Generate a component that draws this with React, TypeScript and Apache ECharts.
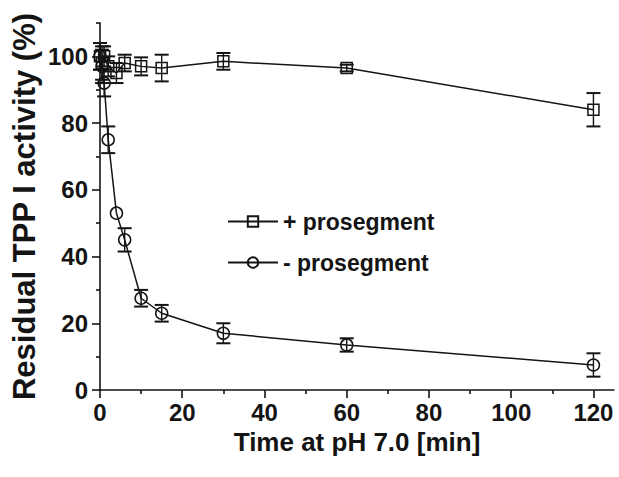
import React, { useEffect, useRef } from "react";
import * as echarts from "echarts";

// Time after shift to pH 7.0 (min)
const timesMin = [0, 0.5, 1, 2, 4, 6, 10, 15, 30, 60, 120];
// Residual activity (%) with prosegment
const withProsegment = [100, 98, 100, 97, 95, 98, 97, 96.5, 98.5, 96.5, 84];
const withProsegmentErr = [4, 5, 3, 3, 3, 2.5, 2.7, 4, 2.5, 1, 5];
// Residual activity (%) without prosegment
const withoutProsegment = [100, 97, 92, 75, 53, 45, 27.5, 23, 17, 13.5, 7.5];
const withoutProsegmentErr = [4, 5, 4, 4, 0, 3.5, 2.5, 2.5, 3, 2, 3.5];

const seriesNames = ["+ prosegment", "- prosegment"];
const xMajorTicks = [0, 20, 40, 60, 80, 100, 120];
const xMinorTicks = [10, 30, 50, 70, 90, 110];
const yMajorTicks = [0, 20, 40, 60, 80, 100];
const yMinorTicks = [10, 30, 50, 70, 90, 110];

const INK = "#141414";
const SANS = "'Liberation Sans', Arial, Helvetica, sans-serif";

function errorData(vals: number[], errs: number[]) {
  return timesMin.map((t, i) => [t, vals[i] - errs[i], vals[i] + errs[i]]);
}

function errorSeries(name: string, vals: number[], errs: number[]) {
  return {
    type: "custom",
    name: name + " err",
    clip: false,
    silent: true,
    z: 3,
    encode: { x: 0, y: [1, 2] },
    data: errorData(vals, errs),
    renderItem: (params: any, api: any) => {
      const x = api.value(0);
      if (api.value(2) - api.value(1) <= 0) return { type: "group", children: [] };
      const top = api.coord([x, api.value(2)]);
      const bot = api.coord([x, api.value(1)]);
      const hw = 7;
      const s = { stroke: INK, lineWidth: 2 };
      return {
        type: "group",
        children: [
          { type: "line", shape: { x1: top[0], y1: top[1], x2: bot[0], y2: bot[1] }, style: { stroke: INK, lineWidth: 1.4 } },
          { type: "line", shape: { x1: top[0] - hw, y1: top[1], x2: top[0] + hw, y2: top[1] }, style: s },
          { type: "line", shape: { x1: bot[0] - hw, y1: bot[1], x2: bot[0] + hw, y2: bot[1] }, style: s },
        ],
      };
    },
  };
}

function lineSeries(name: string, vals: number[], symbol: string, size: number) {
  return {
    type: "line",
    name,
    clip: false,
    z: 4,
    data: timesMin.map((t, i) => [t, vals[i]]),
    symbol,
    symbolSize: size,
    showAllSymbol: true,
    lineStyle: { color: INK, width: 1.5 },
    itemStyle: { color: "transparent", borderColor: INK, borderWidth: 1.5 },
    emphasis: { disabled: true },
  };
}

export default function App() {
  const ref = useRef<HTMLDivElement>(null);

  useEffect(() => {
    document.body.style.margin = "0";
    if (!ref.current) return;
    const chart = echarts.init(ref.current, null, { renderer: "svg" });
    const axisLine = { show: true, onZero: false, lineStyle: { color: INK, width: 1.6 } };
    chart.setOption({
      animation: false,
      backgroundColor: "#ffffff",
      grid: { left: 100, right: 5, top: 23, bottom: 87, outerBoundsMode: "none" },
      legend: {
        data: seriesNames,
        orient: "vertical",
        left: 227,
        top: 210,
        padding: 0,
        itemWidth: 50,
        itemHeight: 13,
        itemGap: 18,
        selectedMode: false,
        textStyle: { fontFamily: SANS, fontWeight: "bold", fontSize: 23, color: INK },
      },
      xAxis: [
        {
          type: "value",
          position: "bottom",
          min: 0,
          max: 125,
          axisLine,
          splitLine: { show: false },
          axisTick: { show: true, customValues: xMajorTicks, length: 8, lineStyle: { color: INK, width: 1.6 } },
          axisLabel: {
            customValues: xMajorTicks,
            margin: 10,
            fontFamily: SANS,
            fontWeight: "bold",
            fontSize: 24,
            color: INK,
          },
          name: "Time at pH 7.0 [min]",
          nameLocation: "middle",
          nameGap: 39,
          nameMoveOverlap: false,
          nameTextStyle: { fontFamily: SANS, fontWeight: "bold", fontSize: 26, color: INK },
        },
        {
          type: "value",
          position: "bottom",
          min: 0,
          max: 125,
          axisLine: { show: false },
          splitLine: { show: false },
          axisTick: { show: true, customValues: xMinorTicks, length: 4, lineStyle: { color: INK, width: 1.6 } },
          axisLabel: { show: false },
        },
      ],
      yAxis: [
        {
          type: "value",
          position: "left",
          min: 0,
          max: 110,
          axisLine,
          splitLine: { show: false },
          axisTick: { show: true, customValues: yMajorTicks, length: 8, lineStyle: { color: INK, width: 1.6 } },
          axisLabel: {
            customValues: yMajorTicks,
            margin: 12,
            fontFamily: SANS,
            fontWeight: "bold",
            fontSize: 24,
            color: INK,
          },
          name: "Residual TPP I activity (%)",
          nameLocation: "middle",
          nameGap: 60,
          nameMoveOverlap: false,
          nameTextStyle: { fontFamily: SANS, fontWeight: "bold", fontSize: 31, color: INK },
        },
        {
          type: "value",
          position: "left",
          min: 0,
          max: 110,
          axisLine: { show: false },
          splitLine: { show: false },
          axisTick: { show: true, customValues: yMinorTicks, length: 4, lineStyle: { color: INK, width: 1.6 } },
          axisLabel: { show: false },
        },
      ],
      series: [
        errorSeries(seriesNames[0], withProsegment, withProsegmentErr),
        errorSeries(seriesNames[1], withoutProsegment, withoutProsegmentErr),
        lineSeries(seriesNames[0], withProsegment, "rect", 11),
        lineSeries(seriesNames[1], withoutProsegment, "circle", 12),
      ],
    });
    return () => chart.dispose();
  }, []);

  return (
    <div
      ref={ref}
      style={{ position: "fixed", left: 0, top: 0, width: 619, height: 477, background: "#fff" }}
    />
  );
}
